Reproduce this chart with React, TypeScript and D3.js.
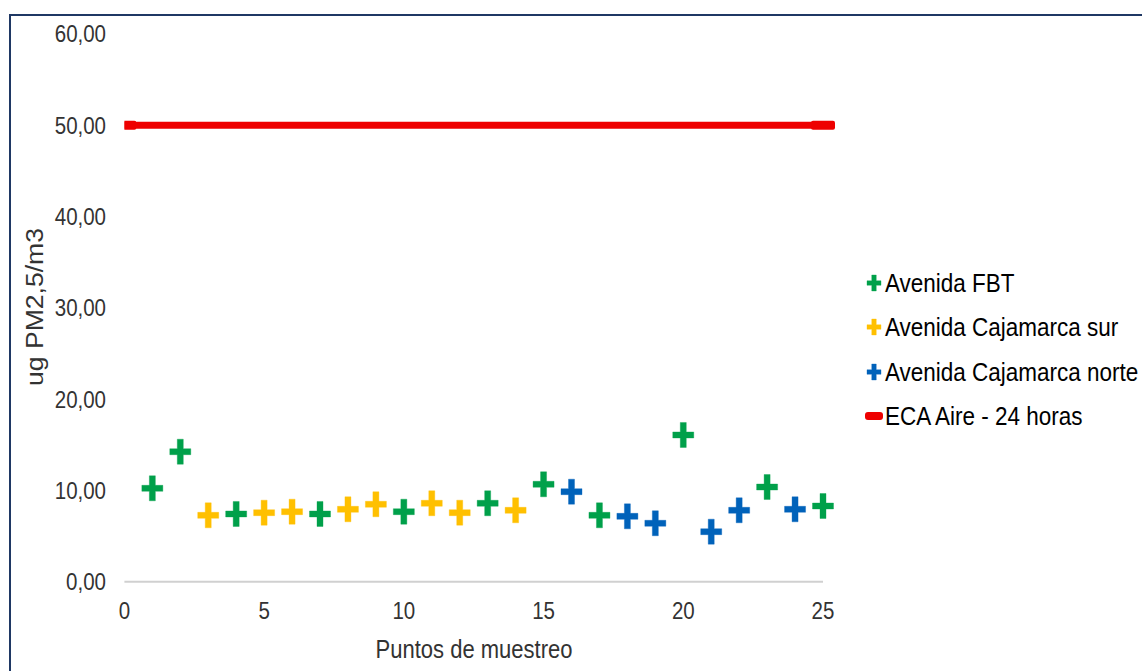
import React from "react";
import * as d3 from "d3";

const fbtX = [1, 2, 4, 7, 10, 13, 15, 17, 20, 23, 25];
const fbtY = [10.23, 14.24, 7.42, 7.42, 7.67, 8.59, 10.67, 7.27, 16.07, 10.37, 8.29];
const surX = [3, 5, 6, 8, 9, 11, 12, 14];
const surY = [7.27, 7.56, 7.67, 7.93, 8.48, 8.59, 7.56, 7.82];
const norteX = [16, 18, 19, 21, 22, 24];
const norteY = [9.86, 7.16, 6.4, 5.48, 7.82, 7.93];
const ecaX = [0, 25];
const ecaY = [50, 50];
const yTicks = [0, 10, 20, 30, 40, 50, 60];
const xTicks = [0, 5, 10, 15, 20, 25];
const legendLabels = [
  "Avenida FBT",
  "Avenida Cajamarca sur",
  "Avenida Cajamarca norte",
  "ECA Aire - 24 horas",
];

const GREEN = "#00A04A";
const YELLOW = "#FFC000";
const BLUE = "#0062BA";
const RED = "#EE0000";
const FONT = "'Liberation Sans', Arial, sans-serif";
const SY = 1.17;

function Plus({ cx, cy, w, h, t, color }: { cx: number; cy: number; w: number; h: number; t: number; color: string }) {
  const d = `M${cx - t / 2},${cy - h / 2}h${t}v${(h - t) / 2}h${(w - t) / 2}v${t}h${-(w - t) / 2}v${(h - t) / 2}h${-t}v${-(h - t) / 2}h${-(w - t) / 2}v${-t}h${(w - t) / 2}z`;
  return <path d={d} fill={color} stroke={color} strokeOpacity={0.35} strokeWidth={1} />;
}

function T({ x, y, anchor, size, fill, children }: { x: number; y: number; anchor?: string; size: number; fill: string; children: React.ReactNode }) {
  return (
    <text
      transform={`translate(${x},${y}) scale(1,${SY})`}
      textAnchor={anchor || "start"}
      fontSize={size}
      fill={fill}
    >
      {children}
    </text>
  );
}

export default function App() {
  const x = d3.scaleLinear().domain([0, 25]).range([124.4, 823]);
  const y = d3.scaleLinear().domain([0, 60]).range([581.7, 33.9]);
  const fmt = (v: number) => v.toFixed(2).replace(".", ",");
  const line = d3
    .line<number>()
    .x((_, i) => x(ecaX[i]))
    .y((d) => y(d));

  const series = [
    { xs: fbtX, ys: fbtY, color: GREEN },
    { xs: surX, ys: surY, color: YELLOW },
    { xs: norteX, ys: norteY, color: BLUE },
  ];

  const legendY = [283, 327, 372, 416];
  const legendColors = [GREEN, YELLOW, BLUE];

  return (
    <svg
      width={1142}
      height={671}
      style={{ position: "absolute", left: 0, top: 0, background: "#fff" }}
      fontFamily={FONT}
    >
      <defs>
        <clipPath id="plotClip">
          <rect x={x(0)} y={0} width={900} height={671} />
        </clipPath>
      </defs>
      <rect x={0} y={0} width={1142} height={671} fill="#fff" />
      <rect x={10} y={15} width={1300} height={800} fill="none" stroke="#1F3864" strokeWidth={2} />

      {/* y tick labels */}
      {yTicks.map((t) => (
        <T key={t} x={106} y={y(t) + 8.5} anchor="end" size={20.5} fill="#333">
          {fmt(t)}
        </T>
      ))}
      {/* x axis line */}
      <line x1={x(0)} x2={x(25)} y1={y(0)} y2={y(0)} stroke="#D0D0D0" strokeWidth={2} />
      {/* x tick labels */}
      {xTicks.map((t) => (
        <T key={t} x={x(t)} y={618.5} anchor="middle" size={20.5} fill="#333">
          {t}
        </T>
      ))}
      <T x={474} y={658} anchor="middle" size={22} fill="#333">
        Puntos de muestreo
      </T>
      <text
        transform={`translate(43,307) rotate(-90)`}
        textAnchor="middle"
        fontSize={23}
        fill="#333"
        textLength={158}
        lengthAdjust="spacingAndGlyphs"
      >
        ug PM2,5/m3
      </text>

      {/* ECA line */}
      <g clipPath="url(#plotClip)">
        <path d={line(ecaY) || ""} fill="none" stroke={RED} strokeWidth={7} />
        {ecaX.map((v, i) => (
          <rect key={i} x={x(v) - 12} y={y(ecaY[i]) - 4.5} width={24} height={9} rx={2} fill={RED} />
        ))}
      </g>

      {/* scatter series */}
      {series.map((s, si) =>
        s.xs.map((xv, i) => (
          <Plus key={`${si}-${i}`} cx={x(xv)} cy={y(s.ys[i])} w={21} h={25} t={6} color={s.color} />
        ))
      )}

      {/* legend */}
      {legendLabels.map((lab, i) => (
        <g key={lab}>
          {i < 3 ? (
            <Plus cx={874} cy={legendY[i]} w={14} h={16} t={4.5} color={legendColors[i]} />
          ) : (
            <rect x={865} y={legendY[i] - 4} width={18} height={8} rx={3} fill={RED} />
          )}
          <T x={885} y={legendY[i] + 9} size={22.5} fill="#000">
            {lab}
          </T>
        </g>
      ))}
    </svg>
  );
}
